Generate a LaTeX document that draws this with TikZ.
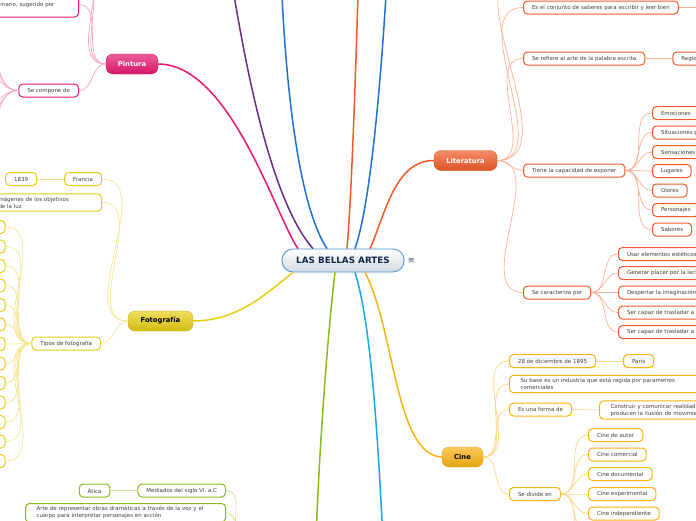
\documentclass[tikz,border=0pt]{standalone}
\usepackage{fontspec}
\newfontfamily\mapfont{DejaVu Sans}
\usetikzlibrary{positioning}
\definecolor{pinkc}{HTML}{E5186F}
\definecolor{pinklt}{HTML}{F7A3C6}
\definecolor{purplec}{HTML}{6A2C86}
\definecolor{bluec}{HTML}{1F6FD9}
\definecolor{cyanc}{HTML}{19A8EC}
\definecolor{litred}{HTML}{F05A28}
\definecolor{litlt}{HTML}{F9B196}
\definecolor{fotoyel}{HTML}{E6CD15}
\definecolor{fotolt}{HTML}{F3E68E}
\definecolor{cinegold}{HTML}{F9B312}
\definecolor{cinelt}{HTML}{FDD583}
\definecolor{teagreen}{HTML}{86BC1C}
\definecolor{tealt}{HTML}{CBE39E}
\definecolor{leaftext}{HTML}{404040}
\definecolor{navy}{HTML}{14284B}
\definecolor{rimblue}{HTML}{4A90D0}
\definecolor{rootgray}{HTML}{D3DAE2}

\begin{document}
\begin{tikzpicture}[x=1pt, y=-1pt,
  branch/.style={line width=1.5pt},
  twig/.style={line width=0.7pt},
]

% =============================================
% Box styles
% =============================================
\tikzset{
  rootbox/.style={
    draw=rimblue, line width=0.8pt, top color=white, bottom color=rootgray,
    rounded corners=11pt, minimum width=122pt, minimum height=23pt,
    font=\mapfont\bfseries\fontsize{8.8}{10}\selectfont, text=navy,
  },
  topicbox/.style 2 args={
    draw=#1!85!black, line width=0.3pt, top color=#1!70!white, bottom color=#1!92!black,
    rounded corners=7pt, minimum height=20pt, inner xsep=7pt,
    font=\mapfont\bfseries\fontsize{6.8}{8}\selectfont, text=#2,
  },
  leafbox/.style={
    draw=#1, line width=1pt, fill=white, rounded corners=4pt,
    minimum height=13pt, inner xsep=8.5pt, inner ysep=1pt,
    font=\mapfont\fontsize{5.5}{7}\selectfont, text=leaftext,
  },
  notebox/.style={
    leafbox=#1, align=left, inner xsep=11pt, inner ysep=3pt,
  },
}

% =============================================
% Frame
% =============================================
\useasboundingbox (0,0) rectangle (696,520);
\fill[white] (0,0) rectangle (696,520);
\clip (0,0) rectangle (696,520);

% =============================================
% Root and main topics
% =============================================
\node[rootbox] (bellas) at (343,260.5) {LAS BELLAS ARTES};
\node[right=3pt of bellas, fill=black!10, text=navy!80, inner sep=0.8pt,
  font=\mapfont\fontsize{7}{7}\selectfont] (notes) {≡};

\node[topicbox={pinkc}{white}, minimum width=52pt] (pintura) at (132,64) {Pintura};
\node[topicbox={litred}{white}, minimum width=63pt] (literatura) at (465.5,160.5) {Literatura};
\node[topicbox={fotoyel}{black}, minimum width=65pt] (foto) at (160.5,321) {Fotografía};
\node[topicbox={cinegold}{black}, minimum width=41pt] (cine) at (462.5,457) {Cine};

% branches leaving the frame
\coordinate (offPurple) at (234,-5);
\coordinate (offBlue) at (282,-5);
\coordinate (offOrange) at (358,-5);
\coordinate (offBlueB) at (386,-5);
\coordinate (teatroTop) at (316,540);
\coordinate (offCyan) at (383,540);
\coordinate (teatro) at (245,548);

% =============================================
% Main branches from the root
% =============================================
\draw[branch, pinkc] ([xshift=-45pt]bellas.north) .. controls (275,215) and (230,64) .. (pintura.east);
\draw[branch, purplec] ([xshift=-30pt]bellas.north) .. controls (270,200) and (245,60) .. (offPurple);
\draw[branch, bluec] ([xshift=-16pt]bellas.north) .. controls (295,200) and (285,60) .. (offBlue);
\draw[branch, litred] ([xshift=4pt]bellas.north) .. controls (352,190) and (356,60) .. (offOrange);
\draw[branch, bluec] ([xshift=12pt]bellas.north) .. controls (372,200) and (382,60) .. (offBlueB);
\draw[branch, litred] ([xshift=27pt]bellas.north) .. controls (385,215) and (395,160) .. (literatura.west);
\draw[branch, fotoyel] ([xshift=-50pt]bellas.south) .. controls (270,290) and (240,321) .. (foto.east);
\draw[branch, teagreen] ([xshift=-8pt]bellas.south) .. controls (328,330) and (319,450) .. (teatroTop);
\draw[branch, cyanc] ([xshift=12pt]bellas.south) .. controls (370,320) and (377,420) .. (offCyan);
\draw[branch, cinegold] ([xshift=22pt]bellas.south) .. controls (395,330) and (395,455) .. (cine.west);

% =============================================
% Pintura
% =============================================
\node[notebox=pinkc, anchor=east, text width=67pt, minimum height=25pt] (pin1) at (79,4.5)
  {inario, sugerido por};
\node[leafbox=pinkc, anchor=east] (pin2) at (79,90.5) {Se compone de};
\coordinate (pin0a) at (79,-25);
\coordinate (pin0b) at (79,-50);

\foreach \to in {pin0a, pin0b, pin1, pin2}
  \draw[twig, pinklt] (pintura.west) to[out=180, in=0] (\to.east);
\foreach \y [count=\i] in {28,46,64,112,130,150} {
  \coordinate (pinpart\i) at (-25,\y);
  \draw[twig, pinklt] (pin2.west) to[out=180, in=0] (pinpart\i);
}

% =============================================
% Literatura
% =============================================
\coordinate (lit0) at (523,-30);
\node[leafbox=litred, anchor=west] (lit1) at (523,7.5) {Es el conjunto de saberes para escribir y leer bien};
\node[leafbox=litred, anchor=west] (lit2) at (523,58.5) {Se refiere al arte de la palabra escrita};
\node[leafbox=litred, anchor=west] (lit3) at (523,170.5) {Tiene la capacidad de exponer};
\node[leafbox=litred, anchor=west] (lit4) at (523,292.5) {Se caracteriza por};
\node[leafbox=litred, right=27pt of lit2] (lit2a) {Regio};
\coordinate (lit1x) at (720,7.5);

\draw[twig, litlt] (literatura.east) to[out=0, in=180] (lit0);
\foreach \to in {lit1, lit2, lit3, lit4}
  \draw[twig, litlt] (literatura.east) to[out=0, in=180] (\to.west);
\draw[twig, litlt] (lit1.east) -- (lit1x);
\draw[twig, litlt] (lit2.east) -- (lit2a.west);

\foreach \txt/\y [count=\i] in {Emociones/113, Situaciones p/132.5, Sensaciones/152,
    Lugares/171, Olores/190.5, Personajes/210, Sabores/229.5} {
  \node[leafbox=litred, anchor=west] (expo\i) at (652,\y) {\txt};
  \draw[twig, litlt] (lit3.east) to[out=0, in=180] (expo\i.west);
}

\foreach \txt/\y [count=\i] in {Usar elementos estéticos/254, Generar placer por la lect/273,
    Despertar la imaginación/292.5, Ser capaz de trasladar a/312.5, Ser capaz de trasladar a/332} {
  \node[leafbox=litred, anchor=west] (rasgo\i) at (618,\y) {\txt};
  \draw[twig, litlt] (lit4.east) to[out=0, in=180] (rasgo\i.west);
}

% =============================================
% Fotografía
% =============================================
\node[leafbox=fotoyel, anchor=east] (foto1) at (102,179) {Francia};
\node[leafbox=fotoyel, left=27pt of foto1] (foto1a) {1839};
\node[notebox=fotoyel, anchor=east, text width=94pt, inner xsep=9pt] (foto2) at (102,202.5)
  {mágenes de los objetivos\\de la luz};
\node[leafbox=fotoyel, anchor=east] (foto3) at (101,343.5) {Tipos de fotografía};

\foreach \to in {foto1, foto2, foto3}
  \draw[twig, fotolt] (foto.west) to[out=180, in=0] (\to.east);
\draw[twig, fotolt] (foto1.west) -- (foto1a.east);

\foreach \i in {0,...,12} {
  \node[leafbox=fotoyel, anchor=east, minimum width=24pt] (ftype\i) at (5.5,227+19.5*\i) {};
  \draw[twig, fotolt] (foto3.west) to[out=180, in=0] (ftype\i.east);
}

% =============================================
% Teatro (its topic lies below the frame)
% =============================================
\node[leafbox=teagreen, anchor=east] (tea1) at (226,490.5) {Mediados del siglo VI. a.C};
\node[leafbox=teagreen, left=27pt of tea1] (tea1a) {Ática};
\node[notebox=teagreen, anchor=north east, text width=178pt] (tea2) at (226,503)
  {Arte de representar obras dramáticas a través de la voz y el\\
   cuerpo para interpretar personajes en acción};

\draw[twig, tealt] (teatro) to[out=180, in=0] (tea1.east);
\draw[twig, tealt] (teatro) to[out=180, in=0] (tea2.east);
\draw[twig, tealt] (tea1.west) -- (tea1a.east);

% =============================================
% Cine
% =============================================
\node[leafbox=cinegold, anchor=west] (cine1) at (509,361) {28 de diciembre de 1895};
\node[leafbox=cinegold, right=27pt of cine1] (cine1a) {París};
\node[notebox=cinegold, anchor=west, text width=172pt] (cine2) at (509,384)
  {Su base es un industria que está regida por parametros\\comerciales};
\node[leafbox=cinegold, anchor=west] (cine3) at (509,409.5) {Es una forma de};
\node[notebox=cinegold, anchor=west, text width=100pt] (cine3a) at (599,410)
  {Construir y comunicar realidad\\producen la ilusión de movimie};
\node[leafbox=cinegold, anchor=west] (cine4) at (509,494) {Se divide en};

\foreach \to in {cine1, cine2, cine3, cine4}
  \draw[twig, cinelt] (cine.east) to[out=0, in=180] (\to.west);
\draw[twig, cinelt] (cine1.east) -- (cine1a.west);
\draw[twig, cinelt] (cine3.east) -- (cine3a.west);

\foreach \txt/\y [count=\i] in {Cine de autor/435, Cine comercial/454.5, Cine documental/474,
    Cine experimental/494, Cine independiente/513.5} {
  \node[leafbox=cinegold, anchor=west] (genero\i) at (588,\y) {\txt};
  \draw[twig, cinelt] (cine4.east) to[out=0, in=180] (genero\i.west);
}
\coordinate (generox1) at (588,533);
\coordinate (generox2) at (588,552);
\draw[twig, cinelt] (cine4.east) to[out=0, in=180] (generox1);
\draw[twig, cinelt] (cine4.east) to[out=0, in=180] (generox2);

\end{tikzpicture}
\end{document}
